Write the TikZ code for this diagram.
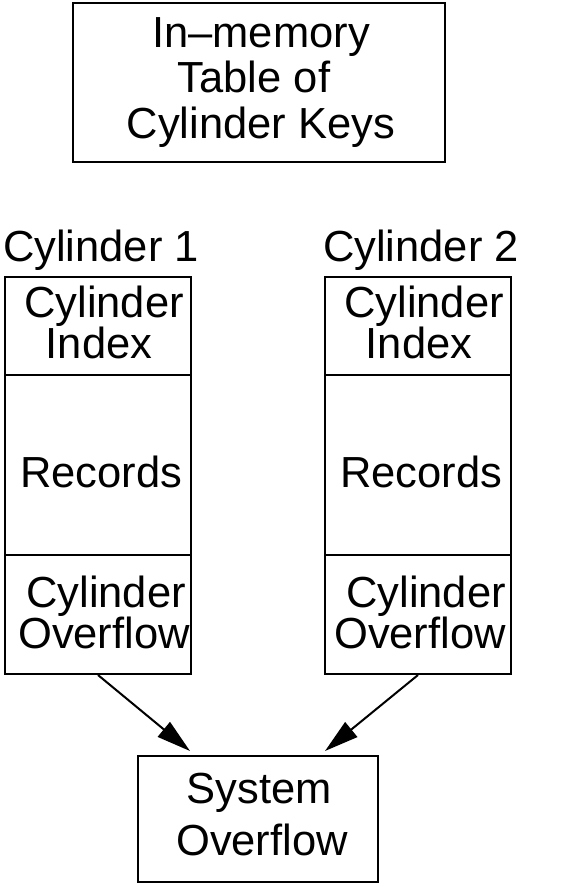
\documentclass[tikz,border=0pt]{standalone}
\usepackage{fontspec}
\setmainfont{Liberation Sans}
\usetikzlibrary{arrows.meta}
\begin{document}
\begin{tikzpicture}[x=1pt,y=-1pt,
  box/.style={draw=black,line width=2pt},
  txt/.style={inner sep=0pt,anchor=base,font=\fontsize{43.5}{45}\selectfont},
  conn/.style={draw=black,line width=2pt,-{Triangle[length=34pt,width=19pt]}}]
\useasboundingbox (0,0) rectangle (571,886);
% boxes
\draw[box] (73,3) rectangle (444.5,162);
\draw[box] (5,277) rectangle (191,674);
\draw[box] (5,375) -- (191,375);
\draw[box] (5,555) -- (191,555);
\draw[box] (325,277) rectangle (511,674);
\draw[box] (325,375) -- (511,375);
\draw[box] (325,555) -- (511,555);
\draw[box] (138,756) rectangle (378,882);
% top text
\node[txt] (t1) at (261,47) {In–memory};
\node[txt] (t2) at (254,92) {Table of};
\node[txt] (t3) at (261,138) {Cylinder Keys};
% labels
\node[txt] (l1) at (101,261) {Cylinder 1};
\node[txt] (l2) at (421,261) {Cylinder 2};
% left column
\node[txt] (a1) at (104,317) {Cylinder};
\node[txt] (a2) at (99,358) {Index};
\node[txt] (a3) at (101,487) {Records};
\node[txt] (a4) at (106,607) {Cylinder};
\node[txt] (a5) at (104,648) {Overflow};
% right column
\node[txt] (b1) at (424,317) {Cylinder};
\node[txt] (b2) at (419,358) {Index};
\node[txt] (b3) at (421,487) {Records};
\node[txt] (b4) at (426,607) {Cylinder};
\node[txt] (b5) at (420,648) {Overflow};
% bottom
\node[txt] (s1) at (259,803) {System};
\node[txt] (s2) at (262,855) {Overflow};
% arrows
\coordinate (c1s) at (98,675);
\coordinate (c1e) at (190,751);
\coordinate (c2s) at (418,675);
\coordinate (c2e) at (325,751);
\draw[conn] (c1s) -- (c1e);
\draw[conn] (c2s) -- (c2e);
\end{tikzpicture}
\end{document}
